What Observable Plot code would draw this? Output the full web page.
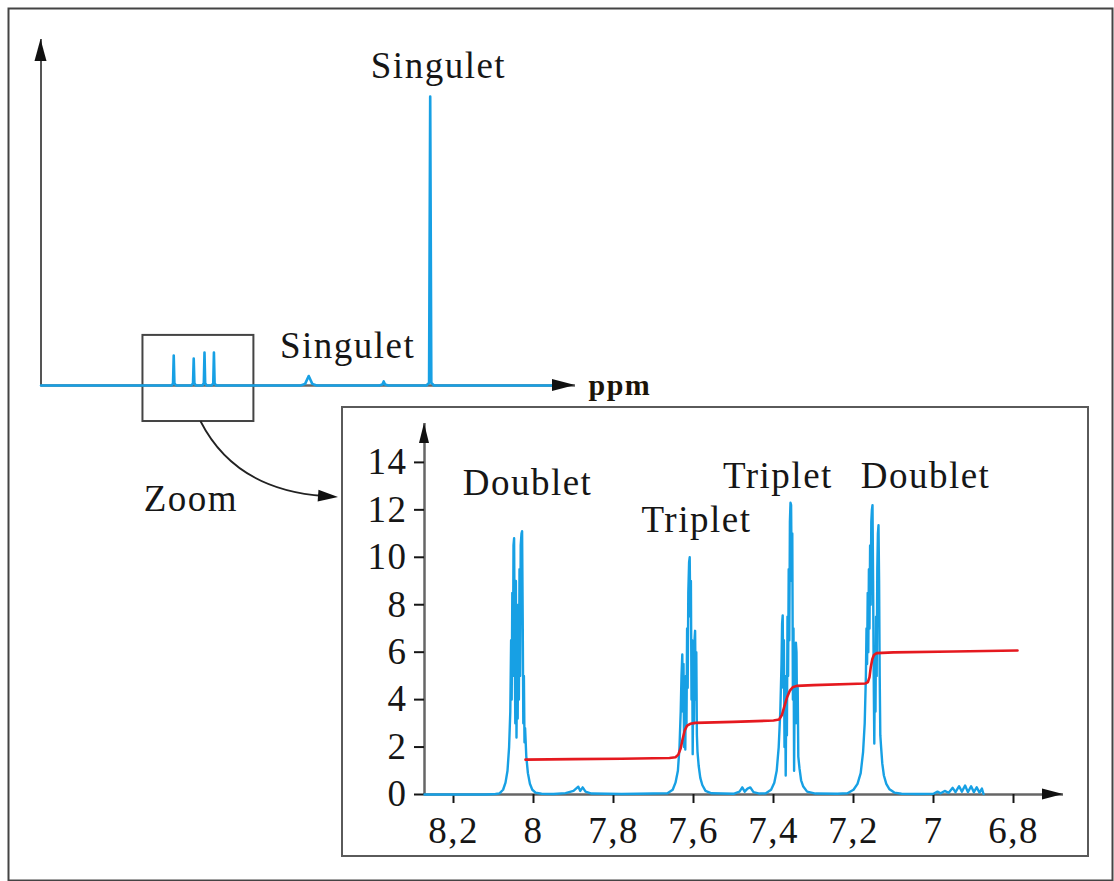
<!DOCTYPE html>
<html><head><meta charset="utf-8">
<script src="https://cdn.jsdelivr.net/npm/d3@7"></script>
<script src="https://cdn.jsdelivr.net/npm/@observablehq/plot@0.6"></script>
<style>
body{margin:0;background:#fff;}
#page{position:relative;width:1114px;height:881px;overflow:hidden;background:#fff;}
#top{position:absolute;left:0;top:0;}
#inset{position:absolute;left:341px;top:406px;border:2px solid #5a5a5a;background:#fff;width:744px;height:447px;}
#inset svg,#top svg{display:block;}
</style></head><body><div id="page"><div id="top"></div><div id="inset"></div></div>
<script>
// ---------- DATA ----------
// overview spectrum (ppm, intensity)
const overviewPpm = [11, 8.09, 8.06, 8.045, 8.03, 7.99, 7.65, 7.615, 7.60, 7.585, 7.55, 7.41, 7.375, 7.36, 7.345, 7.31, 7.20, 7.165, 7.15, 7.135, 7.10,
  5.22, 5.12, 5.04, 4.96, 4.86, 3.47, 3.40, 3.37, 3.34, 3.27, 2.42, 2.36, 2.335, 2.31, 2.25, -0.45];
const overviewIntensity = [0, 0, 0.8, 11.1, 0.8, 0, 0, 0.8, 10.0, 0.8, 0, 0, 0.8, 12.2, 0.8, 0, 0, 0.8, 12.2, 0.8, 0,
  0, 0.6, 3.5, 0.6, 0, 0, 0.4, 1.5, 0.4, 0, 0, 1.0, 106.7, 1.0, 0, 0];
const overviewLabels = ["Singulet", "Singulet"];
const overviewLabelPpm = [2.151, 4.173];
const overviewLabelIntensity = [113.7, 10.0];
// zoom box around the aromatic region (ppm, intensity)
const zoomBoxPpm = [8.73, 6.26];
const zoomBoxIntensity = [-13.3, 18.5];
const zoomArrowFrom = [7.44, -13.3];
const zoomText = {text: "Zoom", ppm: 7.662, intensity: -46.3};

// zoomed spectrum (ppm, intensity)
const zoomPpm = [8.2725, 8.12, 8.095,
  8.085, 8.076, 8.070, 8.065, 8.061, 8.058, 8.056, 8.0545, 8.053, 8.0515, 8.050, 8.0485, 8.047, 8.0455, 8.044, 8.0425, 8.041, 8.0395, 8.038, 8.0365, 8.035, 8.0335, 8.032, 8.030, 8.0285, 8.027, 8.0255, 8.024, 8.0225, 8.021, 8.018, 8.014, 8.009, 8.003, 7.995, 7.98,
  7.95, 7.92, 7.90, 7.888, 7.883, 7.877, 7.870, 7.855, 7.78, 7.70,
  7.665, 7.652, 7.645, 7.639, 7.635, 7.632, 7.630, 7.628, 7.6265, 7.625, 7.6235, 7.622, 7.6205, 7.619, 7.6175, 7.616, 7.6145, 7.613, 7.611, 7.6095, 7.608, 7.6065, 7.605, 7.6035, 7.602, 7.6005, 7.599, 7.5975, 7.596, 7.5945, 7.593, 7.5915, 7.590, 7.587, 7.583, 7.578, 7.57, 7.555,
  7.50, 7.485, 7.478, 7.472, 7.465, 7.458, 7.45, 7.435,
  7.419, 7.406, 7.398, 7.392, 7.387, 7.383, 7.380, 7.3785, 7.377, 7.3755, 7.374, 7.3725, 7.371, 7.3695, 7.368, 7.3665, 7.365, 7.3635, 7.362, 7.3605, 7.359, 7.3575, 7.356, 7.3545, 7.353, 7.3515, 7.350, 7.3485, 7.347, 7.3455, 7.344, 7.3425, 7.341, 7.3395, 7.338, 7.335, 7.331, 7.326, 7.316, 7.295,
  7.24, 7.215, 7.20, 7.19, 7.182, 7.176, 7.172, 7.169, 7.1675, 7.166, 7.1645, 7.163, 7.1615, 7.160, 7.1585, 7.157, 7.1555, 7.154, 7.1525, 7.151, 7.1495, 7.148, 7.1465, 7.145, 7.1435, 7.142, 7.1405, 7.139, 7.1375, 7.136, 7.1345, 7.133, 7.131, 7.128, 7.124, 7.118, 7.11, 7.098, 7.08,
  7.04, 7.00, 6.99, 6.982, 6.972, 6.962, 6.952, 6.945, 6.936, 6.929, 6.921, 6.914, 6.906, 6.899, 6.892, 6.885, 6.879, 6.875];
const zoomIntensity = [0, 0, 0.02,
  0.05, 0.2, 0.5, 1.0, 2.0, 3.5, 6.5, 4.0, 8.5, 5.0, 10.5, 10.8, 6.5, 3.0, 9.0, 2.4, 6.0, 3.2, 8.0, 4.0, 9.5, 5.0, 10.5, 11.0, 11.1, 7.5, 3.0, 5.0, 2.2, 2.8, 1.6, 0.9, 0.45, 0.2, 0.08, 0.03,
  0.02, 0.06, 0.15, 0.33, 0.15, 0.3, 0.12, 0.04, 0.02, 0.04,
  0.05, 0.2, 0.5, 1.0, 2.0, 3.5, 5.0, 5.9, 3.5, 5.5, 2.0, 4.0, 1.9, 5.0, 3.0, 7.0, 4.5, 8.5, 9.8, 10.0, 7.5, 9.0, 4.0, 6.5, 1.7, 5.0, 3.0, 6.5, 6.9, 4.0, 6.0, 2.5, 1.8, 1.2, 0.7, 0.4, 0.15, 0.05,
  0.03, 0.12, 0.3, 0.12, 0.25, 0.3, 0.1, 0.04,
  0.05, 0.2, 0.5, 1.0, 2.0, 3.5, 5.5, 7.2, 7.55, 4.5, 6.5, 2.0, 5.0, 0.8, 4.0, 2.5, 7.5, 5.0, 9.5, 6.5, 11.5, 12.3, 12.2, 9.0, 11.0, 4.0, 7.0, 1.0, 5.0, 3.0, 6.4, 6.0, 3.0, 4.5, 1.6, 1.1, 0.6, 0.35, 0.12, 0.04,
  0.03, 0.05, 0.2, 0.45, 0.9, 1.8, 3.0, 5.0, 7.0, 5.5, 8.5, 6.0, 9.5, 7.0, 10.5, 8.0, 11.5, 12.0, 12.2, 9.0, 5.0, 2.15, 5.5, 3.5, 7.5, 5.0, 9.5, 11.0, 11.35, 9.0, 5.0, 2.5, 2.0, 1.3, 0.8, 0.45, 0.22, 0.08, 0.03,
  0.02, 0.03, 0.12, 0.05, 0.15, 0.07, 0.28, 0.1, 0.35, 0.12, 0.38, 0.1, 0.35, 0.1, 0.3, 0.08, 0.25, 0.02];

// integration curve (ppm, value)
const integralPpm = [8.020, 7.90, 7.78, 7.66, 7.645, 7.638, 7.632, 7.627, 7.622, 7.616, 7.608, 7.595, 7.50, 7.40, 7.386, 7.379, 7.373, 7.366, 7.359, 7.352, 7.342, 7.30, 7.17, 7.164, 7.160, 7.157, 7.153, 7.149, 7.142, 7.10, 6.95, 6.79];
const integralValue = [1.47, 1.49, 1.51, 1.54, 1.57, 1.68, 1.95, 2.35, 2.7, 2.9, 2.98, 3.02, 3.06, 3.12, 3.16, 3.35, 3.7, 4.1, 4.38, 4.52, 4.58, 4.61, 4.68, 4.74, 4.95, 5.35, 5.7, 5.88, 5.96, 5.99, 6.03, 6.07];

const zoomLabels = ["Doublet", "Triplet", "Triplet", "Doublet"];
const zoomLabelPpm = [8.015, 7.5925, 7.389, 7.02];
const zoomLabelIntensity = [12.61, 11.05, 12.9, 12.9];

const xTicks = [8.2, 8, 7.8, 7.6, 7.4, 7.2, 7, 6.8];
const xTickLabels = ["8,2", "8", "7,8", "7,6", "7,4", "7,2", "7", "6,8"];
const yTicks = [0, 2, 4, 6, 8, 10, 12, 14];
const yTickLabels = ["0", "2", "4", "6", "8", "10", "12", "14"];

// ---------- STYLE ----------
const BLUE = "#17a0e4", RED = "#e5191f", AXIS = "#666", INK = "#161616";
const FONT = "Liberation Serif, Times New Roman, serif";

const overview = overviewPpm.map((p, i) => ({ppm: p, v: overviewIntensity[i]}));
const overviewText = overviewLabels.map((t, i) => ({text: t, ppm: overviewLabelPpm[i], v: overviewLabelIntensity[i]}));
const zoomSpec = zoomPpm.map((p, i) => ({ppm: p, v: zoomIntensity[i]}));
const integral = integralPpm.map((p, i) => ({ppm: p, v: integralValue[i]}));
const zoomText2 = zoomLabels.map((t, i) => ({text: t, ppm: zoomLabelPpm[i], v: zoomLabelIntensity[i]}));

function head(svg, x, y, ang, len, wid, fill) {
  const dx = Math.cos(ang), dy = Math.sin(ang);
  const bx = x - len * dx, by = y - len * dy;
  const px = -dy * wid / 2, py = dx * wid / 2;
  d3.select(svg).append("polygon")
    .attr("points", `${x},${y} ${bx + px},${by + py} ${bx - px},${by - py}`)
    .attr("fill", fill);
}

// ---------- OVERVIEW ----------
const X0 = 11, X1 = -0.9, YMAX = 127.8;
const topPlot = Plot.plot({
  width: 1114, height: 881,
  marginTop: 8, marginLeft: 8, marginRight: 2, marginBottom: 1,
  x: {domain: [X0, X1], range: [40.5, 575], axis: null},
  y: {domain: [0, YMAX], range: [385, 39], axis: null},
  style: {fontFamily: FONT, background: "transparent", letterSpacing: "1.5px"},
  marks: [
    Plot.frame({stroke: "#444", strokeWidth: 2}),
    Plot.ruleY([0], {x1: X0, x2: X1, stroke: AXIS, strokeWidth: 2.5}),
    Plot.ruleX([X0], {y1: 0, y2: YMAX, stroke: "#555", strokeWidth: 2}),
    Plot.rect([{x1: zoomBoxPpm[0], x2: zoomBoxPpm[1], y1: zoomBoxIntensity[0], y2: zoomBoxIntensity[1]}],
      {x1: "x1", x2: "x2", y1: "y1", y2: "y2", fill: "none", stroke: "#444", strokeWidth: 2}),
    Plot.line(overview, {x: "ppm", y: "v", stroke: BLUE, strokeWidth: 2.6}),
    Plot.text(overviewText, {x: "ppm", y: "v", text: "text", fontSize: 37, lineAnchor: "bottom", fill: INK}),
    Plot.text([zoomText], {x: "ppm", y: "intensity", text: "text", fontSize: 37, lineAnchor: "bottom", fill: INK}),
    Plot.text(["ppm"], {x: X1, y: 0, dx: 13, text: d => d, textAnchor: "start", fontSize: 30, fontWeight: "bold", fill: "#1c1408"})
  ]
});
document.getElementById("top").appendChild(topPlot);
{
  const sx = topPlot.scale("x"), sy = topPlot.scale("y");
  head(topPlot, sx.apply(X0), sy.apply(YMAX), -Math.PI / 2, 22, 12, "#111");
  head(topPlot, sx.apply(X1), sy.apply(0), 0, 23, 12, "#111");
  // curved zoom arrow: from zoom box bottom to the inset's left edge
  const p0 = [sx.apply(zoomArrowFrom[0]), sy.apply(zoomArrowFrom[1])];
  const p2 = [338, 497];
  const p1 = [p0[0] + 35, p2[1] - 7];
  const path = d3.path();
  path.moveTo(p0[0], p0[1]);
  path.quadraticCurveTo(p1[0], p1[1], p2[0] - 14, p2[1] - 1);
  d3.select(topPlot).append("path").attr("d", path.toString()).attr("fill", "none").attr("stroke", "#222").attr("stroke-width", 1.8);
  head(topPlot, p2[0], p2[1], Math.atan2(p2[1] - p1[1], p2[0] - p1[0]), 20, 12, "#111");
}

// ---------- INSET ----------
const ZX0 = 8.2725, ZX1 = 6.675, ZYMAX = 15.64;
const insPlot = Plot.plot({
  width: 744, height: 447,
  marginLeft: 81, marginTop: 15, marginRight: 24, marginBottom: 61,
  x: {domain: [ZX0, ZX1]},
  y: {domain: [0, ZYMAX]},
  style: {fontFamily: FONT, fontSize: "37px", color: INK, background: "#fff", letterSpacing: "1.5px"},
  marks: [
    Plot.ruleY([0], {stroke: AXIS, strokeWidth: 2.5}),
    Plot.ruleX([ZX0], {stroke: AXIS, strokeWidth: 2.5}),
    Plot.axisX({ticks: xTicks, tickFormat: d => xTickLabels[xTicks.indexOf(d)], tickSize: 9, tickPadding: 13, strokeWidth: 2, label: null}),
    Plot.axisY({ticks: yTicks, tickFormat: d => yTickLabels[yTicks.indexOf(d)], tickSize: 10, tickPadding: 7, strokeWidth: 2, label: null}),
    Plot.line(zoomSpec, {x: "ppm", y: "v", stroke: BLUE, strokeWidth: 2.4, strokeLinejoin: "round"}),
    Plot.line(integral, {x: "ppm", y: "v", stroke: RED, strokeWidth: 2.6}),
    Plot.text(zoomText2, {x: "ppm", y: "v", text: "text", fontSize: 37, lineAnchor: "bottom", fill: INK})
  ]
});
document.getElementById("inset").appendChild(insPlot);
{
  const sx = insPlot.scale("x"), sy = insPlot.scale("y");
  head(insPlot, sx.apply(ZX0), sy.apply(ZYMAX), -Math.PI / 2, 20, 10, "#111");
  head(insPlot, sx.apply(ZX1), sy.apply(0), 0, 21, 11, "#111");
}
</script></body></html>
